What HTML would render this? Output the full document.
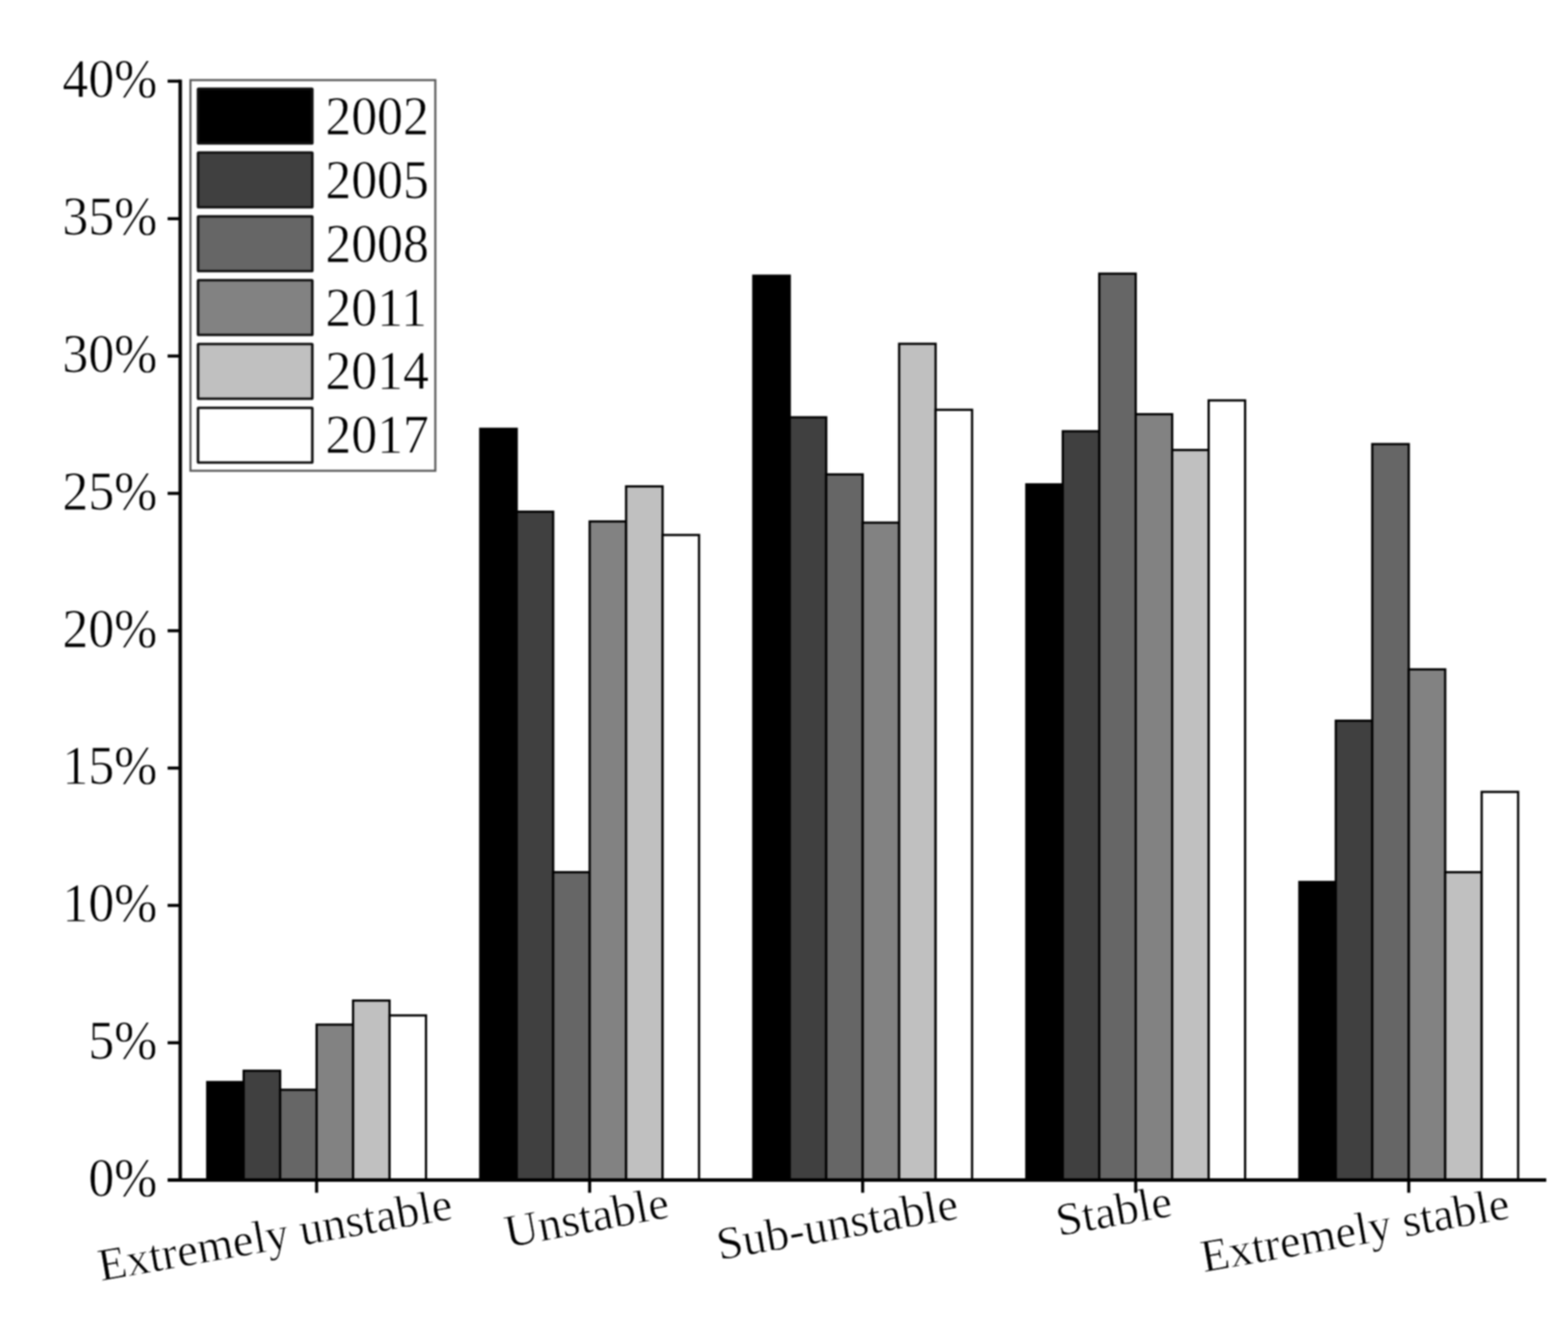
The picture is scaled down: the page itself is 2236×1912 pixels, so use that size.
<!DOCTYPE html>
<html lang="en">
<head>
<meta charset="utf-8">
<title>Stability distribution 2002-2017</title>
<style>
html,body{margin:0;padding:0;background:#fff;}
body{width:2236px;height:1912px;overflow:hidden;}
svg{display:block;}
text{font-family:"Liberation Serif",serif;fill:#000;stroke:#fff;stroke-width:0.8px;}
svg{filter:blur(0.9px);}
</style>
</head>
<body>
<svg width="2236" height="1912" viewBox="0 0 2236 1912">
<rect x="0" y="0" width="2236" height="1912" fill="#fff"/>
<g stroke="#000" stroke-width="3.20">
<rect x="295.50" y="1542.80" width="52.00" height="139.80" fill="#000000"/>
<rect x="347.50" y="1526.70" width="52.00" height="155.90" fill="#404040"/>
<rect x="399.50" y="1553.80" width="52.00" height="128.80" fill="#666666"/>
<rect x="451.50" y="1460.90" width="52.00" height="221.70" fill="#828282"/>
<rect x="503.50" y="1426.60" width="52.00" height="256.00" fill="#c0c0c0"/>
<rect x="555.50" y="1447.80" width="52.00" height="234.80" fill="#ffffff"/>
<rect x="684.85" y="611.40" width="52.00" height="1071.20" fill="#000000"/>
<rect x="736.85" y="729.60" width="52.00" height="953.00" fill="#404040"/>
<rect x="788.85" y="1243.60" width="52.00" height="439.00" fill="#666666"/>
<rect x="840.85" y="743.50" width="52.00" height="939.10" fill="#828282"/>
<rect x="892.85" y="693.50" width="52.00" height="989.10" fill="#c0c0c0"/>
<rect x="944.85" y="762.80" width="52.00" height="919.80" fill="#ffffff"/>
<rect x="1074.20" y="393.10" width="52.00" height="1289.50" fill="#000000"/>
<rect x="1126.20" y="595.00" width="52.00" height="1087.60" fill="#404040"/>
<rect x="1178.20" y="676.40" width="52.00" height="1006.20" fill="#666666"/>
<rect x="1230.20" y="745.20" width="52.00" height="937.40" fill="#828282"/>
<rect x="1282.20" y="490.20" width="52.00" height="1192.40" fill="#c0c0c0"/>
<rect x="1334.20" y="584.30" width="52.00" height="1098.30" fill="#ffffff"/>
<rect x="1463.55" y="690.60" width="52.00" height="992.00" fill="#000000"/>
<rect x="1515.55" y="614.90" width="52.00" height="1067.70" fill="#404040"/>
<rect x="1567.55" y="390.20" width="52.00" height="1292.40" fill="#666666"/>
<rect x="1619.55" y="590.60" width="52.00" height="1092.00" fill="#828282"/>
<rect x="1671.55" y="641.60" width="52.00" height="1041.00" fill="#c0c0c0"/>
<rect x="1723.55" y="570.90" width="52.00" height="1111.70" fill="#ffffff"/>
<rect x="1852.90" y="1257.50" width="52.00" height="425.10" fill="#000000"/>
<rect x="1904.90" y="1027.60" width="52.00" height="655.00" fill="#404040"/>
<rect x="1956.90" y="633.20" width="52.00" height="1049.40" fill="#666666"/>
<rect x="2008.90" y="954.40" width="52.00" height="728.20" fill="#828282"/>
<rect x="2060.90" y="1243.60" width="52.00" height="439.00" fill="#c0c0c0"/>
<rect x="2112.90" y="1129.10" width="52.00" height="553.50" fill="#ffffff"/>
</g>
<g font-size="66">
<text transform="translate(144.00 1826.40) rotate(-10.00) scale(1.000 1)">Extremely unstable</text>
<text transform="translate(724.00 1778.80) rotate(-10.60) scale(1.010 1)">Unstable</text>
<text transform="translate(1026.00 1796.40) rotate(-9.80) scale(1.010 1)">Sub-unstable</text>
<text transform="translate(1510.00 1762.30) rotate(-10.00) scale(1.010 1)">Stable</text>
<text transform="translate(1716.50 1814.00) rotate(-10.00) scale(1.000 1)">Extremely stable</text>
</g>
<g stroke="#000" stroke-width="5.00" fill="none">
<line x1="257.00" y1="113.50" x2="257.00" y2="1685.10"/>
<line x1="239.00" y1="1682.60" x2="2205.00" y2="1682.60"/>
</g>
<g stroke="#000" stroke-width="4.40" fill="none">
<line x1="239.00" y1="1486.77" x2="257.00" y2="1486.77"/>
<line x1="239.00" y1="1290.95" x2="257.00" y2="1290.95"/>
<line x1="239.00" y1="1095.12" x2="257.00" y2="1095.12"/>
<line x1="239.00" y1="899.30" x2="257.00" y2="899.30"/>
<line x1="239.00" y1="703.47" x2="257.00" y2="703.47"/>
<line x1="239.00" y1="507.65" x2="257.00" y2="507.65"/>
<line x1="239.00" y1="311.83" x2="257.00" y2="311.83"/>
<line x1="239.00" y1="115.70" x2="257.00" y2="115.70"/>
<line x1="451.50" y1="1682.60" x2="451.50" y2="1700.60"/>
<line x1="840.85" y1="1682.60" x2="840.85" y2="1700.60"/>
<line x1="1230.20" y1="1682.60" x2="1230.20" y2="1700.60"/>
<line x1="1619.55" y1="1682.60" x2="1619.55" y2="1700.60"/>
<line x1="2008.90" y1="1682.60" x2="2008.90" y2="1700.60"/>
</g>
<g font-size="78" text-anchor="end">
<text transform="translate(224.40 1704.90) scale(0.947 1)">0%</text>
<text transform="translate(224.40 1509.07) scale(0.947 1)">5%</text>
<text transform="translate(224.40 1313.25) scale(0.947 1)">10%</text>
<text transform="translate(224.40 1117.42) scale(0.947 1)">15%</text>
<text transform="translate(224.40 921.60) scale(0.947 1)">20%</text>
<text transform="translate(224.40 725.77) scale(0.947 1)">25%</text>
<text transform="translate(224.40 529.95) scale(0.947 1)">30%</text>
<text transform="translate(224.40 334.13) scale(0.947 1)">35%</text>
<text transform="translate(224.40 138.30) scale(0.947 1)">40%</text>
</g>
<rect x="271.6" y="114.2" width="349.2" height="557" fill="#fff" stroke="#5a5a5a" stroke-width="3"/>
<g stroke="#111" stroke-width="3.7">
<rect x="282.40" y="126.50" width="163.00" height="78.00" rx="1" fill="#000000"/>
<rect x="282.40" y="217.50" width="163.00" height="78.00" rx="1" fill="#404040"/>
<rect x="282.40" y="308.50" width="163.00" height="78.00" rx="1" fill="#666666"/>
<rect x="282.40" y="399.50" width="163.00" height="78.00" rx="1" fill="#828282"/>
<rect x="282.40" y="490.50" width="163.00" height="78.00" rx="1" fill="#c0c0c0"/>
<rect x="282.40" y="581.50" width="163.00" height="78.00" rx="1" fill="#ffffff"/>
</g>
<g font-size="78">
<text transform="translate(464.00 191.00) scale(0.947 1)">2002</text>
<text transform="translate(464.00 281.85) scale(0.947 1)">2005</text>
<text transform="translate(464.00 372.70) scale(0.947 1)">2008</text>
<text transform="translate(464.00 463.55) scale(0.947 1)">2011</text>
<text transform="translate(464.00 554.40) scale(0.947 1)">2014</text>
<text transform="translate(464.00 645.25) scale(0.947 1)">2017</text>
</g>
</svg>
</body>
</html>
